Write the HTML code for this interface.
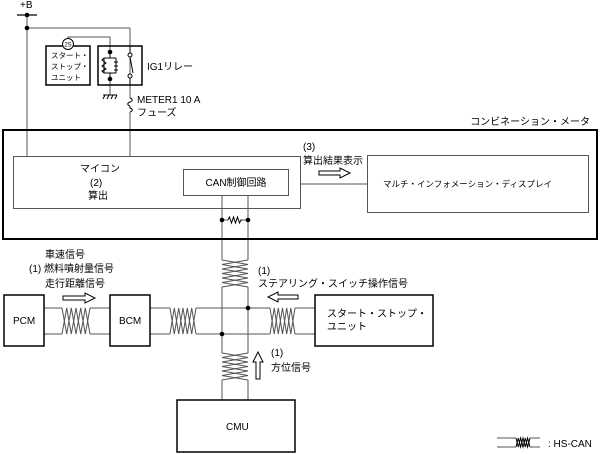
<!DOCTYPE html>
<html><head><meta charset="utf-8"><style>
body{margin:0;background:#fff}
svg{display:block}
text{font-family:"Liberation Sans","Noto Sans CJK JP",sans-serif;fill:#000}
</style></head><body>
<svg width="601" height="454" viewBox="0 0 601 454" xmlns="http://www.w3.org/2000/svg">
<g fill="none" stroke="#555" stroke-width="1">
<!-- power lines -->
<line x1="27" y1="15" x2="27" y2="156"/>
<line x1="27" y1="28" x2="130" y2="28"/>
<line x1="130" y1="28" x2="130" y2="98"/>
<line x1="130" y1="112" x2="130" y2="156"/>
<path d="M68,39 V37 H110 V52"/>
<line x1="110" y1="79" x2="110" y2="95"/>
<!-- inner -->
<rect x="13.5" y="156.5" width="287" height="52"/>
<rect x="183.5" y="169.5" width="105" height="26"/>
<rect x="367.5" y="155.5" width="221" height="57"/>
<line x1="300" y1="184" x2="367" y2="184"/>
<!-- CAN verticals -->
<line x1="222" y1="196" x2="222" y2="260"/>
<line x1="248" y1="196" x2="248" y2="260"/>
<polyline points="222,260 248,264.5 222,269 248,273.5 222,278 248,282.5 222,287"/>
<polyline points="248,260 222,264.5 248,269 222,273.5 248,278 222,282.5 248,287"/>
<line x1="222" y1="287" x2="222" y2="353"/>
<line x1="248" y1="287" x2="248" y2="353"/>
<polyline points="222,353 248,357.5 222,362 248,366.5 222,371 248,375.5 222,380"/>
<polyline points="248,353 222,357.5 248,362 222,366.5 248,371 222,375.5 248,380"/>
<line x1="222" y1="380" x2="222" y2="400"/>
<line x1="248" y1="380" x2="248" y2="400"/>
<!-- horizontals -->
<line x1="44" y1="308" x2="62" y2="308"/><line x1="44" y1="334" x2="62" y2="334"/>
<polyline points="62,308 66.7,334 71.3,308 76,334 80.7,308 85.3,334 90,308"/>
<polyline points="62,334 66.7,308 71.3,334 76,308 80.7,334 85.3,308 90,334"/>
<line x1="90" y1="308" x2="110" y2="308"/><line x1="90" y1="334" x2="110" y2="334"/>
<line x1="150" y1="308" x2="170" y2="308"/><line x1="150" y1="334" x2="170" y2="334"/>
<polyline points="170,308 174.3,334 178.7,308 183,334 187.3,308 191.7,334 196,308"/>
<polyline points="170,334 174.3,308 178.7,334 183,308 187.3,334 191.7,308 196,334"/>
<line x1="196" y1="308" x2="270" y2="308"/><line x1="196" y1="334" x2="270" y2="334"/>
<polyline points="270,308 274.2,334 278.3,308 282.5,334 286.7,308 290.8,334 295,308"/>
<polyline points="270,334 274.2,308 278.3,334 282.5,308 286.7,334 290.8,308 295,334"/>
<line x1="295" y1="308" x2="315" y2="308"/><line x1="295" y1="334" x2="315" y2="334"/>
<!-- resistor CAN -->
<line x1="222" y1="220" x2="228" y2="220"/><line x1="242" y1="220" x2="248" y2="220"/>
<polyline points="228,220 229.5,217 231.5,223 233.5,217 235.5,223 237.5,217 239.5,223 241,220 242,220" stroke="#000"/>
<!-- legend -->
<path d="M497,438 H516 M497,447 H516 M530,438 H540 M530,447 H540"/>
<polyline points="516,438 518.3,447 520.6,438 523,447 525.3,438 527.6,447 530,438" stroke="#000"/>
<polyline points="516,447 518.3,438 520.6,447 523,438 525.3,447 527.6,438 530,447" stroke="#000"/>
</g>
<!-- +B -->
<line x1="17" y1="15" x2="37" y2="15" stroke="#000" stroke-width="1.3"/>
<g fill="#000"><circle cx="27" cy="15" r="2.3"/><circle cx="27" cy="28" r="2.3"/>
<circle cx="110" cy="52" r="2.3"/><circle cx="110" cy="79" r="2.3"/>
<circle cx="222" cy="220" r="2.3"/><circle cx="248" cy="220" r="2.3"/>
<circle cx="248" cy="308" r="2.3"/><circle cx="222" cy="334" r="2.3"/></g>
<g fill="none" stroke="#000" stroke-width="1.5">
<rect x="46" y="46" width="44" height="39"/>
<rect x="98" y="46" width="44" height="39"/>
<rect x="3" y="130" width="594" height="109" stroke-width="2"/>
<rect x="4" y="295" width="40" height="51"/>
<rect x="110" y="295" width="40" height="51"/>
<rect x="315" y="295" width="118" height="51"/>
<rect x="177" y="400" width="118" height="52"/>
</g>
<circle cx="68" cy="44" r="5.5" fill="#fff" stroke="#000"/>
<text x="68" y="46.5" font-size="6" text-anchor="middle">2S</text>
<!-- relay internals -->
<g fill="none" stroke="#000" stroke-width="1">
<path d="M110,52 V58 M110,73 V79 M104,58 H110 M104,73 H110 M104,58 V73 M116,58 V73 M110,58 H116 M110,73 H116"/>
<polyline points="104,58 102,60 106,63 102,66 106,69 102,71 104,73"/>
<path d="M114,62 h4 M114,66 h4 M114,70 h4"/>
<circle cx="130" cy="55" r="2" fill="#fff"/><circle cx="130" cy="76" r="2" fill="#fff"/>
<line x1="130" y1="57" x2="133" y2="73"/>
<path d="M130,46 V53 M130,78 V85"/>
<path d="M103,95 H117 M105,95 l-2,4 M109,95 l-2,4 M113,95 l-2,4 M117,95 l-2,4"/>
<path d="M130,98 c3,1 3,3 0,4 c-3,1 -3,3 0,4 M130,106 v2 c3,1 3,3 0,4"/>
</g>
<!-- arrows -->
<g fill="#fff" stroke="#000" stroke-width="1">
<path d="M319,171 H340 V168 L350,173 L340,178 V175 H319 Z"/>
<path d="M63,296 H85 V293 L95,298 L85,303 V300 H63 Z"/>
<path d="M298,295 H278 V292 L268,297 L278,302 V299 H298 Z"/>
<path d="M256,379 V362 H253 L258,352 L263,362 H260 V379 Z"/>
</g>
<g font-size="7.5">
<text x="51" y="58">スタート・</text><text x="51" y="69">ストップ・</text><text x="51" y="80">ユニット</text>
</g>
<g font-size="10">
<text x="20" y="8">+B</text>
<text x="147" y="70">IG1リレー</text>
<text x="137" y="103">METER1 10 A</text>
<text x="137" y="116">フューズ</text>
<text x="590" y="125" text-anchor="end">コンビネーション・メータ</text>
<text x="80" y="172">マイコン</text>
<text x="90" y="186">(2)</text>
<text x="88" y="199">算出</text>
<text x="236" y="186" text-anchor="middle">CAN制御回路</text>
<text x="303" y="150">(3)</text>
<text x="303" y="164">算出結果表示</text>
<text x="383" y="187" font-size="8.5">マルチ・インフォメーション・ディスプレイ</text>
<text x="45" y="258">車速信号</text>
<text x="29" y="272">(1) 燃料噴射量信号</text>
<text x="45" y="287">走行距離信号</text>
<text x="258" y="274">(1)</text>
<text x="258" y="287">ステアリング・スイッチ操作信号</text>
<text x="13" y="324">PCM</text>
<text x="119" y="324">BCM</text>
<text x="327" y="317">スタート・ストップ・</text>
<text x="327" y="330">ユニット</text>
<text x="271" y="356">(1)</text>
<text x="271" y="371">方位信号</text>
<text x="226" y="430">CMU</text>
<text x="548" y="447">: HS-CAN</text>
</g>
</svg>
</body></html>
